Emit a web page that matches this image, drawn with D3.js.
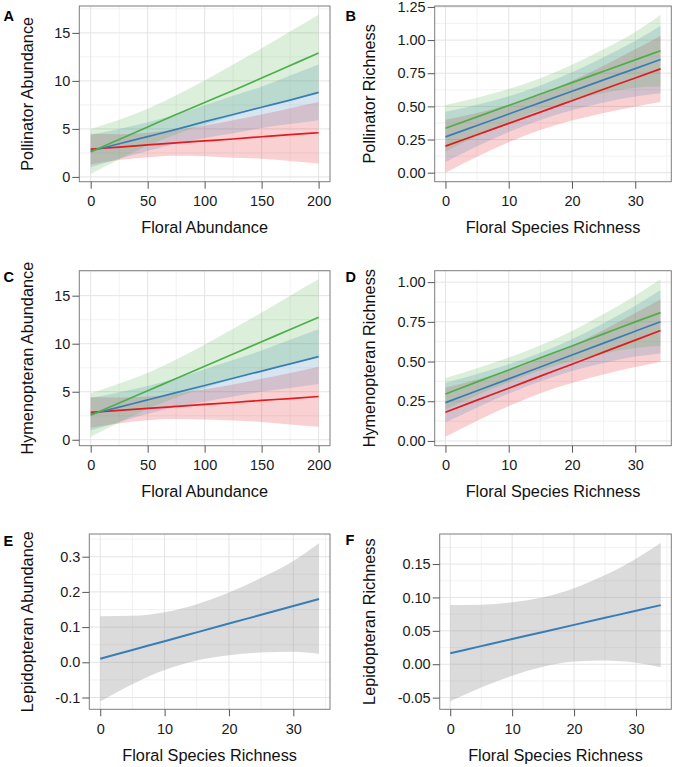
<!DOCTYPE html>
<html><head><meta charset="utf-8">
<script src="https://cdn.jsdelivr.net/npm/d3@7"></script>
<style>
body{margin:0;background:#fff}
text{font-family:"Liberation Sans",Arial,Helvetica,sans-serif}
</style>
</head><body>
<svg id="chart" width="674" height="767"></svg>
<script>
// ---------- data ----------
const abundX = [0, 25, 50, 75, 100, 125, 150, 175, 200];
const richX  = [0, 5, 10, 15, 20, 25, 30, 34];

// Panel A: Pollinator Abundance vs Floral Abundance
const aRedFit   = [2.9, 3.1, 3.33, 3.55, 3.75, 3.95, 4.18, 4.4, 4.6];
const aRedLo    = [1.3, 1.75, 2.05, 2.2, 2.15, 2.0, 1.9, 1.65, 1.4];
const aRedHi    = [4.5, 4.45, 4.6, 4.9, 5.35, 5.9, 6.5, 7.15, 7.8];
const aBlueFit  = [2.7, 3.45, 4.2, 4.95, 5.75, 6.5, 7.25, 8.0, 8.8];
const aBlueLo   = [1.0, 1.9, 2.7, 3.45, 4.05, 4.55, 5.1, 5.5, 5.9];
const aBlueHi   = [4.4, 5.0, 5.7, 6.5, 7.45, 8.45, 9.4, 10.55, 11.7];
const aGreenFit = [2.6, 3.9, 5.2, 6.5, 7.75, 9.0, 10.3, 11.6, 12.9];
const aGreenLo  = [0.3, 1.85, 3.25, 4.45, 5.45, 6.35, 7.2, 7.95, 8.65];
const aGreenHi  = [5.0, 5.95, 7.1, 8.5, 10.05, 11.7, 13.4, 15.15, 16.9];

// Panel B: Pollinator Richness vs Floral Species Richness
const bRedFit   = [0.20, 0.286, 0.372, 0.457, 0.543, 0.629, 0.714, 0.783];
const bRedLo    = [0.00, 0.121, 0.230, 0.321, 0.393, 0.451, 0.498, 0.533];
const bRedHi    = [0.40, 0.451, 0.514, 0.593, 0.693, 0.807, 0.930, 1.033];
const bBlueFit  = [0.27, 0.356, 0.442, 0.528, 0.614, 0.700, 0.785, 0.854];
const bBlueLo   = [0.08, 0.199, 0.307, 0.398, 0.471, 0.530, 0.575, 0.599];
const bBlueHi   = [0.46, 0.513, 0.577, 0.658, 0.757, 0.870, 0.995, 1.109];
const bGreenFit = [0.335, 0.421, 0.507, 0.593, 0.679, 0.765, 0.851, 0.92];
const bGreenLo  = [0.16, 0.276, 0.382, 0.473, 0.544, 0.600, 0.641, 0.65];
const bGreenHi  = [0.51, 0.566, 0.632, 0.713, 0.814, 0.930, 1.061, 1.19];

// Panel C: Hymenopteran Abundance vs Floral Abundance
const cRedFit   = [2.85, 3.06, 3.26, 3.47, 3.68, 3.88, 4.09, 4.29, 4.5];
const cRedLo    = [1.25, 1.7, 2.02, 2.15, 2.1, 2.0, 1.85, 1.6, 1.35];
const cRedHi    = [4.45, 4.4, 4.5, 4.8, 5.25, 5.75, 6.35, 6.95, 7.6];
const cBlueFit  = [2.65, 3.4, 4.15, 4.9, 5.65, 6.4, 7.15, 7.9, 8.65];
const cBlueLo   = [0.95, 1.85, 2.7, 3.4, 3.95, 4.5, 5.0, 5.4, 5.8];
const cBlueHi   = [4.35, 4.95, 5.6, 6.4, 7.35, 8.3, 9.3, 10.4, 11.5];
const cGreenFit = [2.55, 3.83, 5.1, 6.38, 7.65, 8.93, 10.2, 11.48, 12.75];
const cGreenLo  = [0.3, 1.8, 3.2, 4.4, 5.4, 6.3, 7.1, 7.85, 8.55];
const cGreenHi  = [4.85, 5.85, 6.95, 8.35, 9.9, 11.55, 13.25, 15.0, 16.7];

// Panel D: Hymenopteran Richness vs Floral Species Richness
const dRedFit   = [0.181, 0.257, 0.332, 0.408, 0.483, 0.559, 0.635, 0.695];
const dRedLo    = [0.026, 0.127, 0.220, 0.301, 0.365, 0.419, 0.465, 0.499];
const dRedHi    = [0.336, 0.387, 0.444, 0.515, 0.601, 0.699, 0.805, 0.891];
const dBlueFit  = [0.241, 0.316, 0.391, 0.466, 0.541, 0.616, 0.691, 0.751];
const dBlueLo   = [0.116, 0.211, 0.299, 0.376, 0.441, 0.491, 0.531, 0.551];
const dBlueHi   = [0.366, 0.421, 0.483, 0.556, 0.641, 0.741, 0.851, 0.951];
const dGreenFit = [0.296, 0.372, 0.447, 0.523, 0.598, 0.674, 0.750, 0.808];
const dGreenLo  = [0.196, 0.287, 0.369, 0.443, 0.503, 0.549, 0.585, 0.598];
const dGreenHi  = [0.396, 0.457, 0.525, 0.603, 0.693, 0.799, 0.915, 1.018];

// Panel E: Lepidopteran Abundance
const eFit = [0.01, 0.035, 0.06, 0.085, 0.11, 0.135, 0.16, 0.18];
const eLo  = [-0.111, -0.062, -0.022, 0.005, 0.02, 0.028, 0.03, 0.024];
const eHi  = [0.131, 0.132, 0.142, 0.165, 0.198, 0.24, 0.288, 0.338];

// Panel F: Lepidopteran Richness
const fFit = [0.0165, 0.0271, 0.0377, 0.0483, 0.0589, 0.0695, 0.0801, 0.0885];
const fLo  = [-0.0555, -0.0349, -0.0173, -0.0037, 0.0039, 0.0055, 0.0021, -0.0045];
const fHi  = [0.0885, 0.0891, 0.0927, 0.1003, 0.1139, 0.1335, 0.1581, 0.1815];

// tick values / labels
const abundXTicks = [0, 50, 100, 150, 200];
const richXTicks  = [0, 10, 20, 30];
const aYTicks = [0, 5, 10, 15];
const aYLabels = ["0", "5", "10", "15"];
const bYTicks = [0, 0.25, 0.5, 0.75, 1, 1.25];
const bYLabels = ["0.00", "0.25", "0.50", "0.75", "1.00", "1.25"];
const dYTicks = [0, 0.25, 0.5, 0.75, 1];
const dYLabels = ["0.00", "0.25", "0.50", "0.75", "1.00"];
const eYTicks = [-0.1, 0, 0.1, 0.2, 0.3];
const eYLabels = ["-0.1", "0.0", "0.1", "0.2", "0.3"];
const fYTicks = [-0.05, 0, 0.05, 0.1, 0.15];
const fYLabels = ["-0.05", "0.00", "0.05", "0.10", "0.15"];

const colors = {red: "#E41A1C", blue: "#377EB8", green: "#4DAF4A", grey: "#999999"};

// ---------- panels ----------
const FONT_TICK = 14.5, FONT_TITLE = 16.3, FONT_TAG = 14.5;

const panels = [
  {tag: "A", tagX: 3.5, tagY: 20.5, L: 79.3, R: 330, T: 6, B: 181.7,
   xDom: [-10, 210], yDom: [-0.5, 17.8], x: abundX, xTicks: abundXTicks,
   yTicks: aYTicks, yLabels: aYLabels, xTitle: "Floral Abundance", yTitle: "Pollinator Abundance", yTitleX: 33,
   series: [["red", aRedFit, aRedLo, aRedHi], ["blue", aBlueFit, aBlueLo, aBlueHi], ["green", aGreenFit, aGreenLo, aGreenHi]]},
  {tag: "B", tagX: 345.5, tagY: 20.5, L: 434.7, R: 671.3, T: 6, B: 181.7,
   xDom: [-1.7, 35.7], yDom: [-0.068, 1.257], x: richX, xTicks: richXTicks,
   yTicks: bYTicks, yLabels: bYLabels, xTitle: "Floral Species Richness", yTitle: "Pollinator Richness", yTitleX: 375,
   series: [["red", bRedFit, bRedLo, bRedHi], ["blue", bBlueFit, bBlueLo, bBlueHi], ["green", bGreenFit, bGreenLo, bGreenHi]]},
  {tag: "C", tagX: 3.5, tagY: 282, L: 79.3, R: 330, T: 270.7, B: 445.7,
   xDom: [-10, 210], yDom: [-0.62, 17.6], x: abundX, xTicks: abundXTicks,
   yTicks: aYTicks, yLabels: aYLabels, xTitle: "Floral Abundance", yTitle: "Hymenopteran Abundance", yTitleX: 33,
   series: [["red", cRedFit, cRedLo, cRedHi], ["blue", cBlueFit, cBlueLo, cBlueHi], ["green", cGreenFit, cGreenLo, cGreenHi]]},
  {tag: "D", tagX: 345.5, tagY: 282, L: 434.7, R: 671.3, T: 270.7, B: 445.7,
   xDom: [-1.7, 35.7], yDom: [-0.03, 1.072], x: richX, xTicks: richXTicks,
   yTicks: dYTicks, yLabels: dYLabels, xTitle: "Floral Species Richness", yTitle: "Hymenopteran Richness", yTitleX: 375,
   series: [["red", dRedFit, dRedLo, dRedHi], ["blue", dBlueFit, dBlueLo, dBlueHi], ["green", dGreenFit, dGreenLo, dGreenHi]]},
  {tag: "E", tagX: 3.5, tagY: 546, L: 89.3, R: 330, T: 534, B: 709.3,
   xDom: [-1.7, 35.7], yDom: [-0.1335, 0.3645], x: richX, xTicks: richXTicks,
   yTicks: eYTicks, yLabels: eYLabels, xTitle: "Floral Species Richness", yTitle: "Lepidopteran Abundance", yTitleX: 33,
   grey: true, series: [["blue", eFit, eLo, eHi]]},
  {tag: "F", tagX: 345.5, tagY: 545, L: 439.7, R: 671.3, T: 534, B: 709.3,
   xDom: [-1.7, 35.7], yDom: [-0.0675, 0.195], x: richX, xTicks: richXTicks,
   yTicks: fYTicks, yLabels: fYLabels, xTitle: "Floral Species Richness", yTitle: "Lepidopteran Richness", yTitleX: 375,
   grey: true, series: [["blue", fFit, fLo, fHi]]}
];

function minorBreaks(ticks, dom) {
  const step = ticks[1] - ticks[0];
  const out = [];
  const n = ticks.length;
  for (let i = -1; i < n; i++) {
    const v = ticks[0] + (i + 0.5) * step;
    if (v >= dom[0] - 1e-9 && v <= dom[1] + 1e-9) out.push(v);
  }
  return out;
}

const svg = d3.select("#chart");
svg.append("rect").attr("width", 674).attr("height", 767).attr("fill", "#fff");

panels.forEach(p => {
  const g = svg.append("g");
  const x = d3.scaleLinear().domain(p.xDom).range([p.L, p.R]);
  const y = d3.scaleLinear().domain(p.yDom).range([p.B, p.T]);

  // grid
  const grid = g.append("g");
  minorBreaks(p.xTicks, p.xDom).forEach(v => grid.append("line")
    .attr("x1", x(v)).attr("x2", x(v)).attr("y1", p.T).attr("y2", p.B)
    .attr("stroke", "#efefef").attr("stroke-width", 0.8));
  minorBreaks(p.yTicks, p.yDom).forEach(v => grid.append("line")
    .attr("y1", y(v)).attr("y2", y(v)).attr("x1", p.L).attr("x2", p.R)
    .attr("stroke", "#efefef").attr("stroke-width", 0.8));
  p.xTicks.forEach(v => grid.append("line")
    .attr("x1", x(v)).attr("x2", x(v)).attr("y1", p.T).attr("y2", p.B)
    .attr("stroke", "#e4e4e4").attr("stroke-width", 1));
  p.yTicks.forEach(v => grid.append("line")
    .attr("y1", y(v)).attr("y2", y(v)).attr("x1", p.L).attr("x2", p.R)
    .attr("stroke", "#e4e4e4").attr("stroke-width", 1));

  const clipId = "clip" + p.tag;
  svg.append("clipPath").attr("id", clipId).append("rect")
    .attr("x", p.L).attr("y", p.T).attr("width", p.R - p.L).attr("height", p.B - p.T);
  const plot = g.append("g").attr("clip-path", `url(#${clipId})`);

  // ribbons
  p.series.forEach(([key, fit, lo, hi]) => {
    const rows = p.x.map((xv, i) => ({x: xv, lo: lo[i], hi: hi[i]}));
    const area = d3.area().x(d => x(d.x)).y0(d => y(d.lo)).y1(d => y(d.hi)).curve(d3.curveMonotoneX);
    plot.append("path").attr("d", area(rows))
      .attr("fill", p.grey ? "#999999" : colors[key])
      .attr("fill-opacity", p.grey ? 0.35 : 0.2);
  });
  // fitted lines
  p.series.forEach(([key, fit]) => {
    const rows = p.x.map((xv, i) => ({x: xv, y: fit[i]}));
    const line = d3.line().x(d => x(d.x)).y(d => y(d.y)).curve(d3.curveMonotoneX);
    plot.append("path").attr("d", line(rows)).attr("fill", "none")
      .attr("stroke", colors[key]).attr("stroke-width", p.grey ? 2 : 1.7);
  });

  // frame
  g.append("rect").attr("x", p.L).attr("y", p.T).attr("width", p.R - p.L).attr("height", p.B - p.T)
    .attr("fill", "none").attr("stroke", "#7d7d7d").attr("stroke-width", 1);

  // axes
  const yAxis = d3.axisLeft(y).tickValues(p.yTicks).tickFormat((d, i) => p.yLabels[i])
    .tickSize(7).tickSizeOuter(0).tickPadding(2);
  const ya = g.append("g").attr("transform", `translate(${p.L},0)`).call(yAxis);
  const xAxis = d3.axisBottom(x).tickValues(p.xTicks).tickFormat(d => String(d))
    .tickSize(7).tickSizeOuter(0).tickPadding(7);
  const xa = g.append("g").attr("transform", `translate(0,${p.B})`).call(xAxis);
  [ya, xa].forEach(a => {
    a.select(".domain").remove();
    a.selectAll(".tick line").attr("stroke", "#555").attr("stroke-width", 1);
    a.selectAll("text").attr("font-size", FONT_TICK).attr("fill", "#1a1a1a")
      .attr("font-family", '"Liberation Sans",Arial,sans-serif');
  });

  // titles
  g.append("text").attr("x", (p.L + p.R) / 2).attr("y", p.B + 51.5)
    .attr("text-anchor", "middle").attr("font-size", FONT_TITLE).attr("fill", "#111")
    .text(p.xTitle);
  g.append("text").attr("transform", `translate(${p.yTitleX},${(p.T + p.B) / 2}) rotate(-90)`)
    .attr("text-anchor", "middle").attr("font-size", FONT_TITLE).attr("fill", "#111")
    .text(p.yTitle);
  g.append("text").attr("x", p.tagX).attr("y", p.tagY).attr("font-size", FONT_TAG)
    .attr("font-weight", "bold").attr("fill", "#000").text(p.tag);
});
</script>
</body></html>
